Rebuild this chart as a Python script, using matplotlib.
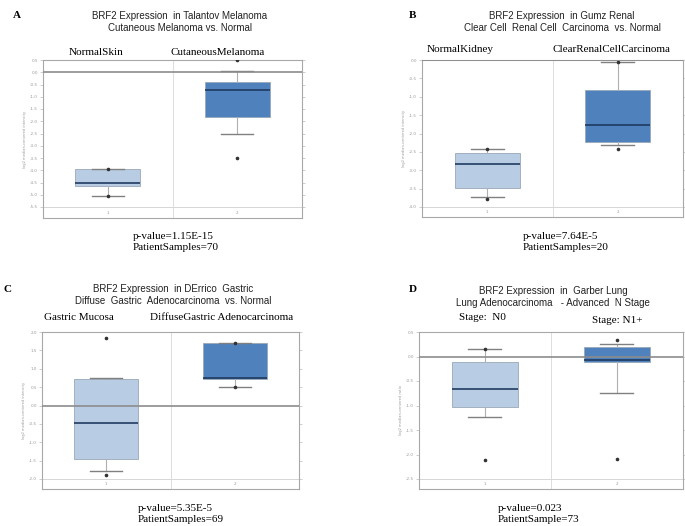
import numpy as np
import matplotlib
matplotlib.use("Agg")
import matplotlib.pyplot as plt

# panel texts
letters = ["A", "B", "C", "D"]
titles = [
    "BRF2 Expression  in Talantov Melanoma\nCutaneous Melanoma vs. Normal",
    "BRF2 Expression  in Gumz Renal\nClear Cell  Renal Cell  Carcinoma  vs. Normal",
    "BRF2 Expression  in DErrico  Gastric\nDiffuse  Gastric  Adenocarcinoma  vs. Normal",
    "BRF2 Expression  in  Garber Lung\nLung Adenocarcinoma   - Advanced  N Stage",
]
group_labels = [
    ["NormalSkin", "CutaneousMelanoma"],
    ["NormalKidney", "ClearRenalCellCarcinoma"],
    ["Gastric Mucosa", "DiffuseGastric Adenocarcinoma"],
    ["Stage:  N0", "Stage: N1+"],
]
pvalues = ["p-value=1.15E-15", "p-value=7.64E-5", "p-value=5.35E-5", "p-value=0.023"]
samples = ["PatientSamples=70", "PatientSamples=20", "PatientSamples=69", "PatientSample=73"]
ylabels = ["log2 median-centered intensity", "log2 median-centered intensity",
           "log2 median-centered intensity", "log2 median-centered ratio"]

# y tick ranges (top, bottom)
y_top = [0.5, 0.0, 2.0, 0.5]
y_bot = [-5.5, -4.0, -2.0, -2.5]

# box stats per panel: [normal, tumor] -> (whislo, q1, med, q3, whishi)
box_stats = [
    [(-5.04, -4.65, -4.50, -3.93, -3.93), (-2.51, -1.82, -0.74, -0.41, 0.04)],
    [(-3.74, -3.47, -2.83, -2.52, -2.42), (-2.31, -2.24, -1.76, -0.81, -0.05)],
    [(-1.77, -1.45, -0.47, 0.71, 0.76), (0.51, 0.71, 0.76, 1.70, 1.70)],
    [(-1.24, -1.03, -0.67, -0.11, 0.15), (-0.74, -0.12, -0.08, 0.19, 0.25)],
]
# extreme points drawn as dots
dots = [
    [[-3.93, -5.04], [0.50, -3.51]],
    [[-2.42, -3.78], [-0.05, -2.43]],
    [[1.85, -1.89], [1.70, 0.51]],
    [[0.15, -2.12], [0.33, -2.09]],
]

# layout in pixels (left, top, right, plot bottom, frame bottom)
frames = [(43, 60, 302, 207, 218), (422, 60, 683, 207, 217),
          (42, 332, 299, 479, 489), (419, 332, 683, 479, 489)]
# group label centres as axes fractions, and their baseline offsets in px
label_x = [(0.205, 0.675), (0.145, 0.725), (0.145, 0.70), (0.24, 0.75)]
label_dy = [(5, 5), (8, 8), (12, 12), (12, 9)]
W, H = 685, 526
box_colors = ["#b8cde4", "#4f81bd"]

fig = plt.figure(figsize=(W / 100, H / 100), dpi=100)

for i in range(4):
    l, t, r, pb, fb = frames[i]
    ax = fig.add_axes([l / W, 1 - fb / H, (r - l) / W, (fb - t) / H])
    span = y_top[i] - y_bot[i]
    strip = (fb - pb) / (pb - t) * span
    ax.set_ylim(y_bot[i] - strip, y_top[i])
    ax.set_xlim(0.5, 2.5)

    stats = []
    for k in range(2):
        lo, q1, med, q3, hi = box_stats[i][k]
        stats.append(dict(whislo=lo, q1=q1, med=med, q3=q3, whishi=hi, fliers=dots[i][k]))
    bp = ax.bxp(stats, positions=[1, 2], widths=0.5, patch_artist=True,
                boxprops=dict(edgecolor="#9aa8b8", linewidth=0.6),
                medianprops=dict(color="#1f3b60", linewidth=1.2),
                whiskerprops=dict(color="#b0b0b0", linewidth=0.8),
                capprops=dict(color="#808080", linewidth=1.0),
                flierprops=dict(marker="o", markersize=1.6, markerfacecolor="#333333",
                                markeredgecolor="#333333", linestyle="none"),
                zorder=3)
    for patch, c in zip(bp["boxes"], box_colors):
        patch.set_facecolor(c)

    ax.axhline(0, color="#8c8c8c", linewidth=1.2, zorder=4)
    ax.axhline(y_bot[i], color="#d0d0d0", linewidth=0.6, zorder=1)
    ax.axvline(1.5, color="#d8d8d8", linewidth=0.6, zorder=1)

    ticks = np.arange(y_bot[i], y_top[i] + 0.01, 0.5)
    ax.set_yticks(ticks)
    ax.set_yticklabels(["%.1f" % v for v in ticks], fontsize=3, color="#999999")
    ax.tick_params(axis="y", length=2.5, width=0.5, color="#bbbbbb", pad=1,
                   right=True)
    ax.set_xticks([])
    for k, x in enumerate([1, 2]):
        ax.text(x, y_bot[i] - strip / 2, str(k + 1), fontsize=3, color="#999999",
                ha="center", va="center")
    for s in ax.spines.values():
        s.set_color("#a8a8a8")
        s.set_linewidth(0.8)
    ax.set_ylabel(ylabels[i], fontsize=2.6, color="#999999", labelpad=2)

    for k in range(2):
        ax.text(label_x[i][k], 1 + label_dy[i][k] / (fb - t), group_labels[i][k],
                transform=ax.transAxes, family="Liberation Serif", fontsize=8,
                ha="center", va="baseline")

title_pos = [(180, 22), (562, 22), (173, 295), (553, 297)]
letter_pos = [(17, 16), (413, 16), (8, 289), (413, 289)]
pv_pos = [(133, 232), (523, 232), (138, 504), (498, 504)]
for i in range(4):
    x, y = title_pos[i]
    fig.text(x / W, 1 - y / H, titles[i], family="Liberation Sans", fontsize=7,
             ha="center", va="center", color="#222222", linespacing=1.3)
    x, y = letter_pos[i]
    fig.text(x / W, 1 - y / H, letters[i], family="Liberation Serif", fontsize=8,
             fontweight="bold", ha="center", va="center")
    x, y = pv_pos[i]
    fig.text(x / W, 1 - y / H, pvalues[i] + "\n" + samples[i],
             family="Liberation Serif", fontsize=8, ha="left", va="top",
             linespacing=1.25)

fig.savefig("out.png", dpi=100)
